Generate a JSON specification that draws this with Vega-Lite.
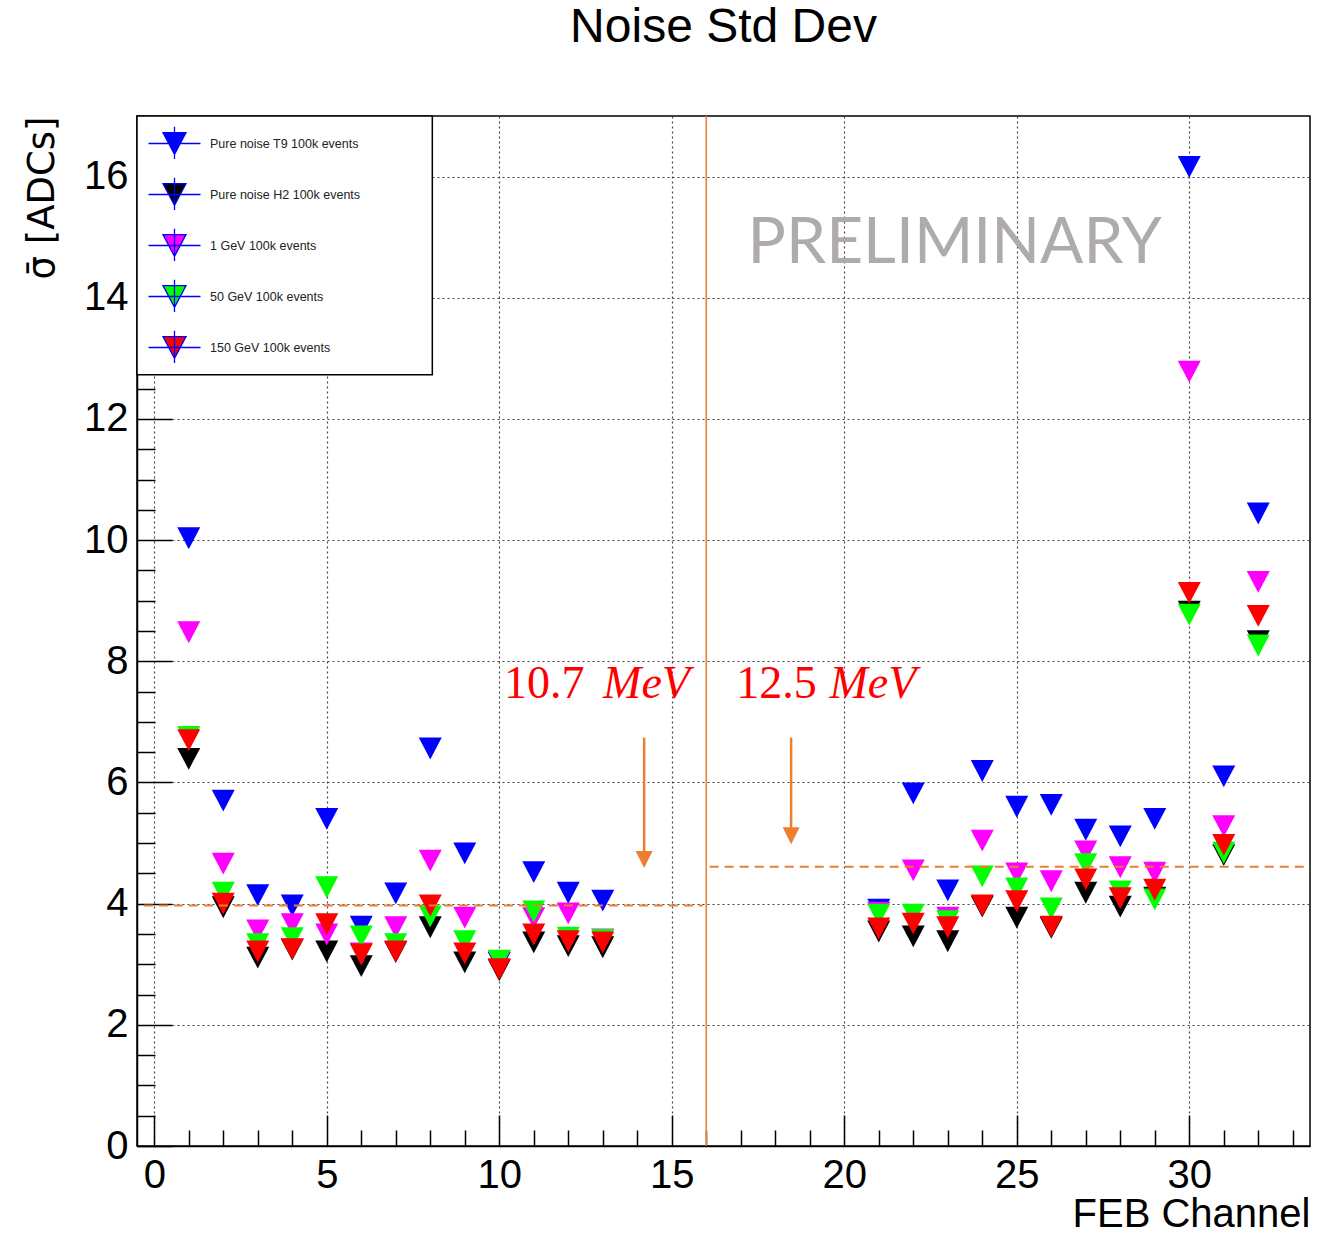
{
  "$schema": "https://vega.github.io/schema/vega-lite/v6.json",
  "width": 1173,
  "height": 1030,
  "autosize": "none",
  "padding": {"left": 137, "top": 116, "right": 24, "bottom": 90},
  "background": "white",
  "config": {
    "view": {"stroke": "#000000", "strokeWidth": 1.5},
    "font": "Liberation Sans"
  },
  "title": {
    "text": "Noise Std Dev",
    "fontSize": 48,
    "fontWeight": "normal",
    "font": "Liberation Sans",
    "color": "#000000",
    "anchor": "middle",
    "frame": "group",
    "baseline": "alphabetic",
    "offset": 25
  },
  "layer": [
    {
      "data": {
        "values": [
          {"ch": 1, "Pure noise T9 100k events": 10.03, "Pure noise H2 100k events": 6.39, "1 GeV 100k events": 8.48, "50 GeV 100k events": 6.75, "150 GeV 100k events": 6.70},
          {"ch": 2, "Pure noise T9 100k events": 5.70, "Pure noise H2 100k events": 3.94, "1 GeV 100k events": 4.66, "50 GeV 100k events": 4.18, "150 GeV 100k events": 4.00},
          {"ch": 3, "Pure noise T9 100k events": 4.14, "Pure noise H2 100k events": 3.11, "1 GeV 100k events": 3.56, "50 GeV 100k events": 3.33, "150 GeV 100k events": 3.21},
          {"ch": 4, "Pure noise T9 100k events": 3.97, "Pure noise H2 100k events": 3.24, "1 GeV 100k events": 3.66, "50 GeV 100k events": 3.43, "150 GeV 100k events": 3.25},
          {"ch": 5, "Pure noise T9 100k events": 5.40, "Pure noise H2 100k events": 3.21, "1 GeV 100k events": 3.49, "50 GeV 100k events": 4.27, "150 GeV 100k events": 3.66},
          {"ch": 6, "Pure noise T9 100k events": 3.62, "Pure noise H2 100k events": 2.97, "1 GeV 100k events": 3.18, "50 GeV 100k events": 3.46, "150 GeV 100k events": 3.16},
          {"ch": 7, "Pure noise T9 100k events": 4.17, "Pure noise H2 100k events": 3.20, "1 GeV 100k events": 3.61, "50 GeV 100k events": 3.33, "150 GeV 100k events": 3.21},
          {"ch": 8, "Pure noise T9 100k events": 6.56, "Pure noise H2 100k events": 3.61, "1 GeV 100k events": 4.71, "50 GeV 100k events": 3.79, "150 GeV 100k events": 3.97},
          {"ch": 9, "Pure noise T9 100k events": 4.83, "Pure noise H2 100k events": 3.03, "1 GeV 100k events": 3.77, "50 GeV 100k events": 3.38, "150 GeV 100k events": 3.18},
          {"ch": 10, "Pure noise T9 100k events": 3.02, "Pure noise H2 100k events": 2.90, "1 GeV 100k events": 3.05, "50 GeV 100k events": 3.06, "150 GeV 100k events": 2.92},
          {"ch": 11, "Pure noise T9 100k events": 4.52, "Pure noise H2 100k events": 3.36, "1 GeV 100k events": 3.76, "50 GeV 100k events": 3.87, "150 GeV 100k events": 3.49},
          {"ch": 12, "Pure noise T9 100k events": 4.18, "Pure noise H2 100k events": 3.30, "1 GeV 100k events": 3.84, "50 GeV 100k events": 3.44, "150 GeV 100k events": 3.38},
          {"ch": 13, "Pure noise T9 100k events": 4.05, "Pure noise H2 100k events": 3.28, "1 GeV 100k events": 3.41, "50 GeV 100k events": 3.40, "150 GeV 100k events": 3.36},
          {"ch": 21, "Pure noise T9 100k events": 3.90, "Pure noise H2 100k events": 3.54, "1 GeV 100k events": 3.85, "50 GeV 100k events": 3.82, "150 GeV 100k events": 3.59},
          {"ch": 22, "Pure noise T9 100k events": 5.82, "Pure noise H2 100k events": 3.46, "1 GeV 100k events": 4.55, "50 GeV 100k events": 3.82, "150 GeV 100k events": 3.67},
          {"ch": 23, "Pure noise T9 100k events": 4.22, "Pure noise H2 100k events": 3.38, "1 GeV 100k events": 3.77, "50 GeV 100k events": 3.71, "150 GeV 100k events": 3.61},
          {"ch": 24, "Pure noise T9 100k events": 6.19, "Pure noise H2 100k events": 3.95, "1 GeV 100k events": 5.04, "50 GeV 100k events": 4.45, "150 GeV 100k events": 3.97},
          {"ch": 25, "Pure noise T9 100k events": 5.60, "Pure noise H2 100k events": 3.77, "1 GeV 100k events": 4.50, "50 GeV 100k events": 4.25, "150 GeV 100k events": 4.04},
          {"ch": 26, "Pure noise T9 100k events": 5.63, "Pure noise H2 100k events": 3.60, "1 GeV 100k events": 4.37, "50 GeV 100k events": 3.92, "150 GeV 100k events": 3.62},
          {"ch": 27, "Pure noise T9 100k events": 5.22, "Pure noise H2 100k events": 4.18, "1 GeV 100k events": 4.86, "50 GeV 100k events": 4.65, "150 GeV 100k events": 4.40},
          {"ch": 28, "Pure noise T9 100k events": 5.11, "Pure noise H2 100k events": 3.95, "1 GeV 100k events": 4.60, "50 GeV 100k events": 4.20, "150 GeV 100k events": 4.09},
          {"ch": 29, "Pure noise T9 100k events": 5.40, "Pure noise H2 100k events": 4.10, "1 GeV 100k events": 4.51, "50 GeV 100k events": 4.07, "150 GeV 100k events": 4.23},
          {"ch": 30, "Pure noise T9 100k events": 16.16, "Pure noise H2 100k events": 8.82, "1 GeV 100k events": 12.78, "50 GeV 100k events": 8.77, "150 GeV 100k events": 9.13},
          {"ch": 31, "Pure noise T9 100k events": 6.10, "Pure noise H2 100k events": 4.80, "1 GeV 100k events": 5.28, "50 GeV 100k events": 4.84, "150 GeV 100k events": 4.97},
          {"ch": 32, "Pure noise T9 100k events": 10.44, "Pure noise H2 100k events": 8.33, "1 GeV 100k events": 9.31, "50 GeV 100k events": 8.26, "150 GeV 100k events": 8.75}
        ]
      },
      "transform": [
        {"fold": ["Pure noise T9 100k events", "Pure noise H2 100k events", "1 GeV 100k events", "50 GeV 100k events", "150 GeV 100k events"], "as": ["series", "value"]}
      ],
      "mark": {"type": "point", "filled": true, "shape": "M-1,-0.95L1,-0.95L0,0.95Z", "size": 529, "opacity": 1, "strokeWidth": 0},
      "encoding": {
        "x": {
          "field": "ch",
          "type": "quantitative",
          "scale": {"domain": [-0.5, 33.5], "nice": false, "zero": false},
          "axis": {
            "values": [0,1,2,3,4,5,6,7,8,9,10,11,12,13,14,15,16,17,18,19,20,21,22,23,24,25,26,27,28,29,30,31,32,33],
            "tickCount": 200,
            "title": "FEB Channel",
            "titleFontSize": 40,
            "titleFontWeight": "normal",
            "titleColor": "#000000",
            "titleAnchor": "end",
            "titleAlign": "right",
            "titleBaseline": "alphabetic",
            "titleX": 1173,
            "titleY": 80,
            "grid": true,
            "gridDash": [2, 3],
            "gridColor": "#444444",
            "gridWidth": 1.2,
            "gridOpacity": {"condition": {"test": "datum.value % 5 === 0", "value": 1}, "value": 0},
            "tickSize": {"condition": {"test": "datum.value % 5 === 0", "value": -31}, "value": -16},
            "tickColor": "#000000",
            "tickWidth": 1.5,
            "domainColor": "#000000",
            "domainWidth": 1.5,
            "labelExpr": "datum.value % 5 === 0 ? '' + datum.value : ''",
            "labelFontSize": 40,
            "labelColor": "#000000",
            "labelPadding": 40,
            "labelFlush": false,
            "labelOverlap": false,
            "labelBound": false
          }
        },
        "y": {
          "field": "value",
          "type": "quantitative",
          "scale": {"domain": [0, 17], "nice": false, "zero": false},
          "axis": {
            "values": [0,0.5,1,1.5,2,2.5,3,3.5,4,4.5,5,5.5,6,6.5,7,7.5,8,8.5,9,9.5,10,10.5,11,11.5,12,12.5,13,13.5,14,14.5,15,15.5,16,16.5],
            "tickCount": 200,
            "title": "σ̄ [ADCs]",
            "titleFont": "DejaVu Sans",
            "titleFontSize": 37,
            "titleFontWeight": "normal",
            "titleColor": "#000000",
            "titleAngle": 270,
            "titleAlign": "right",
            "titleBaseline": "middle",
            "titleX": -95,
            "titleY": 0,
            "grid": true,
            "gridDash": [2, 3],
            "gridColor": "#444444",
            "gridWidth": 1.2,
            "gridOpacity": {"condition": {"test": "datum.value % 2 === 0", "value": 1}, "value": 0},
            "tickSize": {"condition": {"test": "datum.value % 2 === 0", "value": -35}, "value": -18},
            "tickColor": "#000000",
            "tickWidth": 1.5,
            "domainColor": "#000000",
            "domainWidth": 1.5,
            "labelExpr": "datum.value % 2 === 0 ? '' + datum.value : ''",
            "labelFontSize": 40,
            "labelColor": "#000000",
            "labelPadding": 44,
            "labelFlush": false,
            "labelOverlap": false,
            "labelBound": false
          }
        },
        "color": {
          "field": "series",
          "type": "nominal",
          "scale": {
            "domain": ["Pure noise T9 100k events", "Pure noise H2 100k events", "1 GeV 100k events", "50 GeV 100k events", "150 GeV 100k events"],
            "range": ["#0000ff", "#000000", "#ff00ff", "#00ff00", "#ff0000"]
          },
          "legend": {
            "title": null,
            "orient": "none",
            "legendX": 25,
            "legendY": 15,
            "symbolType": "M-2.26,0H2.26M0,-1.45V1.35M-1,-0.95L1,-0.95L0,0.95Z",
            "symbolSize": 529,
            "symbolStrokeColor": "#0000ff",
            "symbolStrokeWidth": 1.3,
            "labelFontSize": 12.5,
            "labelColor": "#222222",
            "labelFont": "Liberation Sans",
            "labelOffset": 23,
            "rowPadding": 13,
            "padding": 0,
            "symbolOpacity": 1
          }
        }
      }
    },
    {
      "data": {"values": [{}]},
      "mark": {"type": "rect", "fill": "#ffffff", "stroke": "#000000", "strokeWidth": 1.5},
      "encoding": {
        "x": {"datum": -0.5, "type": "quantitative"},
        "x2": {"datum": 8.06},
        "y": {"datum": 12.73, "type": "quantitative"},
        "y2": {"datum": 17}
      }
    },
    {
      "data": {"values": [{}]},
      "mark": {"type": "rule", "color": "#ED7D31", "strokeWidth": 1.5},
      "encoding": {
        "x": {"datum": 16, "type": "quantitative"},
        "y": {"datum": 0, "type": "quantitative"},
        "y2": {"datum": 17}
      }
    },
    {
      "data": {"values": [{}]},
      "mark": {"type": "rule", "color": "#ED7D31", "strokeWidth": 2, "strokeDash": [9, 6]},
      "encoding": {
        "x": {"datum": -0.3, "type": "quantitative"},
        "x2": {"datum": 15.9},
        "y": {"datum": 3.97, "type": "quantitative"}
      }
    },
    {
      "data": {"values": [{}]},
      "mark": {"type": "rule", "color": "#ED7D31", "strokeWidth": 2, "strokeDash": [9, 6]},
      "encoding": {
        "x": {"datum": 16.1, "type": "quantitative"},
        "x2": {"datum": 33.5},
        "y": {"datum": 4.61, "type": "quantitative"}
      }
    },
    {
      "data": {"values": [{}]},
      "mark": {"type": "rule", "color": "#ED7D31", "strokeWidth": 2.5},
      "encoding": {
        "x": {"datum": 14.2, "type": "quantitative"},
        "y": {"datum": 6.74, "type": "quantitative"},
        "y2": {"datum": 4.85}
      }
    },
    {
      "data": {"values": [{}]},
      "mark": {"type": "point", "filled": true, "shape": "M-1,-1L1,-1L0,1Z", "size": 289, "color": "#ED7D31", "opacity": 1, "strokeWidth": 0},
      "encoding": {
        "x": {"datum": 14.2, "type": "quantitative"},
        "y": {"datum": 4.73, "type": "quantitative"}
      }
    },
    {
      "data": {"values": [{}]},
      "mark": {"type": "rule", "color": "#ED7D31", "strokeWidth": 2.5},
      "encoding": {
        "x": {"datum": 18.46, "type": "quantitative"},
        "y": {"datum": 6.74, "type": "quantitative"},
        "y2": {"datum": 5.25}
      }
    },
    {
      "data": {"values": [{}]},
      "mark": {"type": "point", "filled": true, "shape": "M-1,-1L1,-1L0,1Z", "size": 289, "color": "#ED7D31", "opacity": 1, "strokeWidth": 0},
      "encoding": {
        "x": {"datum": 18.46, "type": "quantitative"},
        "y": {"datum": 5.12, "type": "quantitative"}
      }
    },
    {
      "data": {"values": [{}]},
      "mark": {"type": "text", "text": "10.7", "font": "Liberation Serif", "fontSize": 46, "color": "#ff0000", "align": "left", "baseline": "alphabetic"},
      "encoding": {
        "x": {"datum": 10.14, "type": "quantitative"},
        "y": {"datum": 7.4, "type": "quantitative"}
      }
    },
    {
      "data": {"values": [{}]},
      "mark": {"type": "text", "text": "MeV", "font": "Liberation Serif", "fontStyle": "italic", "fontSize": 46, "color": "#ff0000", "align": "left", "baseline": "alphabetic"},
      "encoding": {
        "x": {"datum": 13.01, "type": "quantitative"},
        "y": {"datum": 7.4, "type": "quantitative"}
      }
    },
    {
      "data": {"values": [{}]},
      "mark": {"type": "text", "text": "12.5", "font": "Liberation Serif", "fontSize": 46, "color": "#ff0000", "align": "left", "baseline": "alphabetic"},
      "encoding": {
        "x": {"datum": 16.87, "type": "quantitative"},
        "y": {"datum": 7.4, "type": "quantitative"}
      }
    },
    {
      "data": {"values": [{}]},
      "mark": {"type": "text", "text": "MeV", "font": "Liberation Serif", "fontStyle": "italic", "fontSize": 46, "color": "#ff0000", "align": "left", "baseline": "alphabetic"},
      "encoding": {
        "x": {"datum": 19.57, "type": "quantitative"},
        "y": {"datum": 7.4, "type": "quantitative"}
      }
    },
    {
      "data": {"values": [{}]},
      "mark": {"type": "text", "text": "PRELIMINARY", "font": "Lato", "fontSize": 64, "color": "#AFABAB", "align": "center", "baseline": "alphabetic"},
      "encoding": {
        "x": {"datum": 23.2, "type": "quantitative"},
        "y": {"datum": 14.57, "type": "quantitative"}
      }
    }
  ]
}
